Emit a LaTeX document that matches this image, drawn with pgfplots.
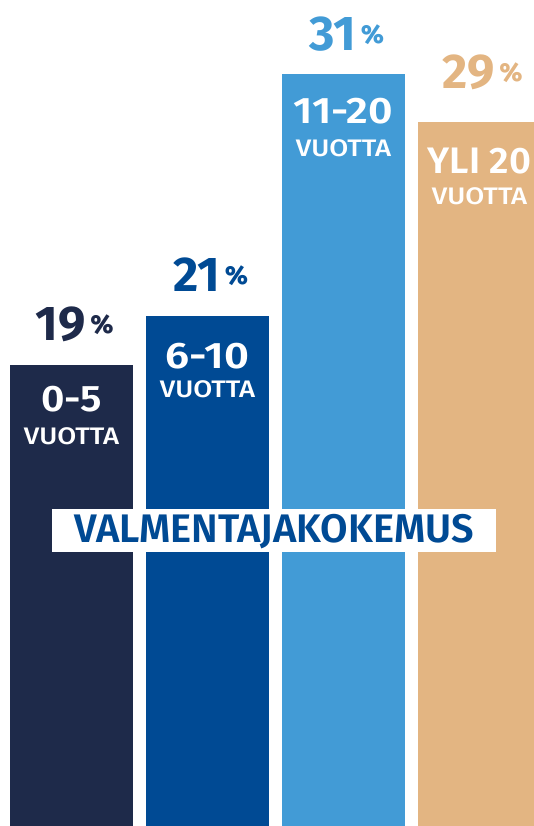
\documentclass[border=0pt]{standalone}
\usepackage{pgfplots}
\pgfplotsset{compat=1.18}
\usepackage{fontspec}
\setmainfont{Fira Sans}[BoldFont={Fira Sans SemiBold}]
\newfontfamily\firamed{Fira Sans Medium}
\newfontfamily\firabold{Fira Sans Bold}
\definecolor{c1}{HTML}{1E2A4A}
\definecolor{c2}{HTML}{004A94}
\definecolor{c3}{HTML}{429BD6}
\definecolor{c4}{HTML}{E3B582}
\newcommand{\pct}[1]{\firabold\fontsize{49}{49}\selectfont\pgfmathprintnumber[assume math mode=true]{#1}\hspace{5bp}\raisebox{7bp}{\bfseries\fontsize{26}{26}\selectfont\%}}
\newcommand{\biglab}[2]{\scalebox{#1}[1]{\bfseries\fontsize{37}{37}\selectfont #2}}
\newcommand{\vu}{\scalebox{1.15}[1]{\firamed\fontsize{24}{24}\selectfont VUOTTA}}
\begin{document}
\begin{tikzpicture}
\useasboundingbox (0,0) rectangle (534bp,826bp);
\begin{axis}[
  at={(0,0)}, anchor=south west,
  scale only axis, width=534bp, height=826bp,
  xmin=-0.5257, xmax=3.4007, ymin=0, ymax=34.03,
  hide axis, ybar, bar width=123bp, bar shift=0pt,
  point meta=y,
  nodes near coords={\pct{\pgfplotspointmeta}},
  nodes near coords style={anchor=base, inner sep=0pt, xshift=3bp},
]
\addplot[fill=c1, draw=none, nodes near coords style={text=c1, yshift=24bp}] coordinates {(0,19)};
\addplot[fill=c2, draw=none, nodes near coords style={text=c2, yshift=25bp}] coordinates {(1,21)};
\addplot[fill=c3, draw=none, nodes near coords style={text=c3, yshift=23bp}] coordinates {(2,31)};
\addplot[fill=c4, draw=none, nodes near coords style={text=c4, yshift=34bp}] coordinates {(3,29)};

\begin{scope}[every node/.style={text=white, anchor=base, inner sep=0pt}]
\node[yshift=-47bp] at (axis cs:0,19) {\biglab{1.1}{0-5}};
\node[yshift=-80bp] at (axis cs:0,19) {\vu};
\node[yshift=-52bp] at (axis cs:1,21) {\biglab{1.17}{6-10}};
\node[yshift=-81bp] at (axis cs:1,21) {\vu};
\node[yshift=-50bp] at (axis cs:2,31) {\biglab{1.15}{11-20}};
\node[yshift=-83bp] at (axis cs:2,31) {\vu};
\node[yshift=-51bp] at (axis cs:3,29) {\biglab{1.03}{YLI 20}};
\node[yshift=-82bp] at (axis cs:3,29) {\vu};
\end{scope}

\fill[white] (rel axis cs:0.0974,0.3317) rectangle (rel axis cs:0.9288,0.3838);
\node[text=c2, inner sep=0pt, anchor=center, font=\bfseries\fontsize{40}{40}\selectfont] at (rel axis cs:0.5131,0.3559) {VALMENTAJAKOKEMUS};
\end{axis}
\end{tikzpicture}
\end{document}
